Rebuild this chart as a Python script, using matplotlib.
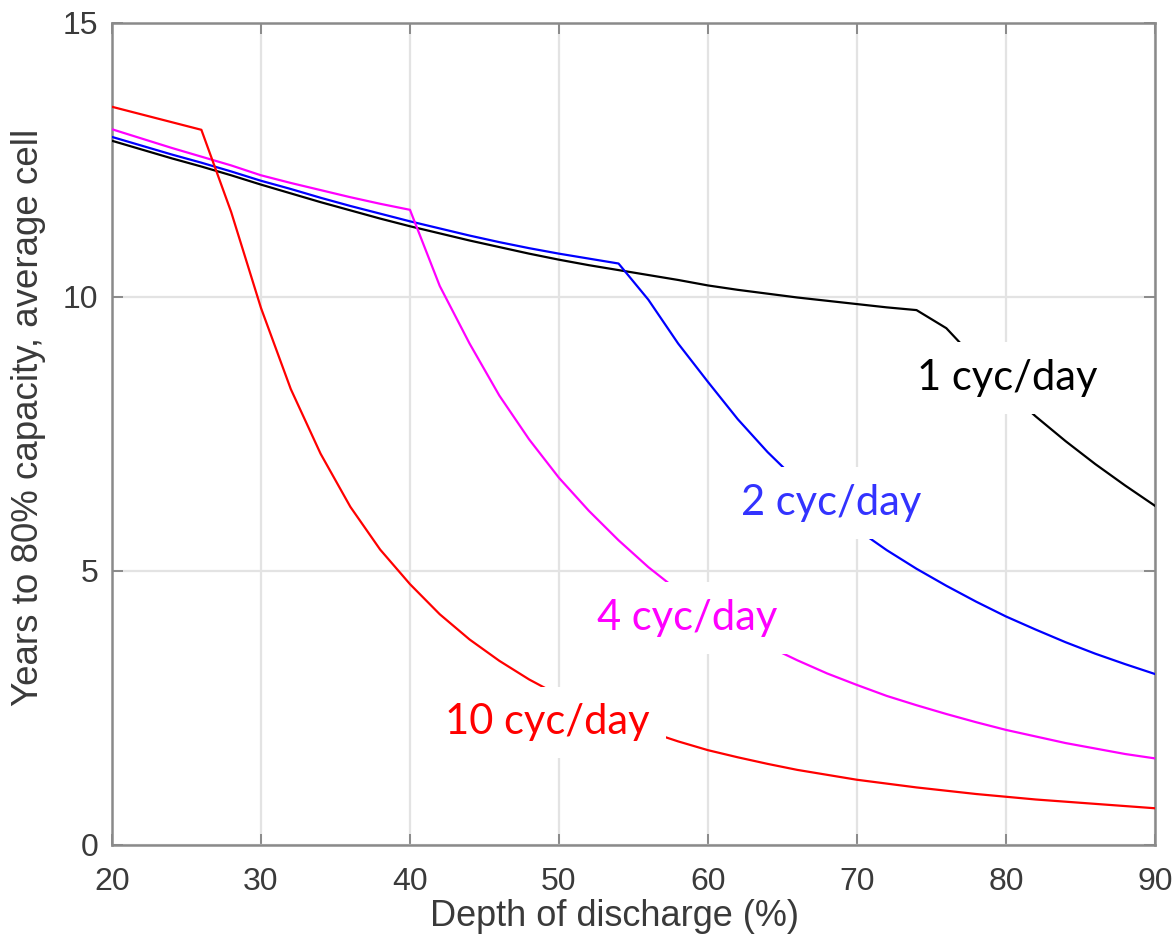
import matplotlib
matplotlib.use("Agg")
import matplotlib.pyplot as plt

# ==========================
# Data
# ==========================
dod = [20, 22, 24, 26, 28, 30, 32, 34, 36, 38, 40, 42, 44, 46, 48, 50, 52, 54,
       56, 58, 60, 62, 64, 66, 68, 70, 72, 74, 76, 78, 80, 82, 84, 86, 88, 90]

years_1 = [12.85, 12.69, 12.53, 12.38, 12.22, 12.05, 11.89, 11.73, 11.58, 11.43,
           11.29, 11.16, 11.03, 10.91, 10.79, 10.68, 10.58, 10.49, 10.40, 10.31,
           10.21, 10.13, 10.06, 9.99, 9.93, 9.87, 9.81, 9.76, 9.43, 8.85,
           8.31, 7.82, 7.37, 6.95, 6.56, 6.19]

years_2 = [12.92, 12.76, 12.60, 12.45, 12.29, 12.12, 11.97, 11.81, 11.66, 11.52,
           11.38, 11.25, 11.12, 11.00, 10.89, 10.79, 10.70, 10.61, 9.95, 9.15,
           8.45, 7.77, 7.17, 6.64, 6.17, 5.76, 5.38, 5.04, 4.73, 4.44,
           4.17, 3.93, 3.70, 3.49, 3.30, 3.12]

years_4 = [13.06, 12.89, 12.72, 12.56, 12.40, 12.22, 12.08, 11.95, 11.82, 11.70,
           11.59, 10.20, 9.15, 8.20, 7.40, 6.70, 6.10, 5.56, 5.07, 4.64,
           4.27, 3.93, 3.63, 3.37, 3.13, 2.92, 2.72, 2.55, 2.39, 2.24,
           2.10, 1.98, 1.86, 1.76, 1.66, 1.58]

years_10 = [13.47, 13.33, 13.19, 13.05, 11.55, 9.80, 8.32, 7.14, 6.17, 5.39,
            4.76, 4.21, 3.75, 3.36, 3.02, 2.73, 2.48, 2.26, 2.07, 1.89,
            1.73, 1.60, 1.48, 1.37, 1.28, 1.19, 1.12, 1.05, 0.99, 0.93,
            0.88, 0.83, 0.79, 0.75, 0.71, 0.67]

series = [years_1, years_2, years_4, years_10]
line_colors = ["#000000", "#0000ff", "#ff00ff", "#ff0000"]

labels = ["1 cyc/day", "2 cyc/day", "4 cyc/day", "10 cyc/day"]
label_x = [80.1, 68.3, 58.6, 49.2]
label_y = [8.52, 6.24, 4.14, 2.24]
label_colors = ["#000000", "#3333ff", "#ff00ff", "#ff0000"]

xticks = [20, 30, 40, 50, 60, 70, 80, 90]
yticks = [0, 5, 10, 15]

# ==========================
# Plot
# ==========================
fig = plt.figure(figsize=(11.75, 9.44), dpi=100)
ax = fig.add_axes([0.0953, 0.1049, 0.8876, 0.8708])

for ys, c in zip(series, line_colors):
    ax.plot(dod, ys, color=c, linewidth=1.6, zorder=3)

for txt, x, y, c in zip(labels, label_x, label_y, label_colors):
    ax.text(x, y, txt, color=c, fontsize=30, family=["Lato", "DejaVu Sans"],
            ha="center", va="center", zorder=5,
            bbox=dict(facecolor="white", edgecolor="none", pad=12))

ax.set_xlim(20, 90)
ax.set_ylim(0, 15)
ax.set_xticks(xticks)
ax.set_yticks(yticks)

ax.grid(True, color="#e3e3e3", linewidth=1.6, zorder=0)
ax.set_axisbelow(True)

axis_grey = "#8a8a8a"
for sp in ax.spines.values():
    sp.set_color(axis_grey)
    sp.set_linewidth(1.8)

ax.tick_params(direction="in", length=8, width=1.4, color=axis_grey,
               labelcolor="#3a3a3a", labelsize=23, pad=10,
               top=True, right=True)
ax.tick_params(axis="x", pad=16)
for lab in ax.get_xticklabels() + ax.get_yticklabels():
    lab.set_family(["Liberation Sans", "DejaVu Sans"])

ax.set_xlabel("Depth of discharge (%)", fontsize=26, color="#3a3a3a",
              family=["Liberation Sans", "DejaVu Sans"])
ax.set_ylabel("Years to 80% capacity, average cell", fontsize=26.5,
              color="#3a3a3a", family=["Liberation Sans", "DejaVu Sans"])
ax.xaxis.set_label_coords(0.482, -0.066)
ax.yaxis.set_label_coords(-0.063, 0.52)

plt.savefig("out.png", dpi=100)
